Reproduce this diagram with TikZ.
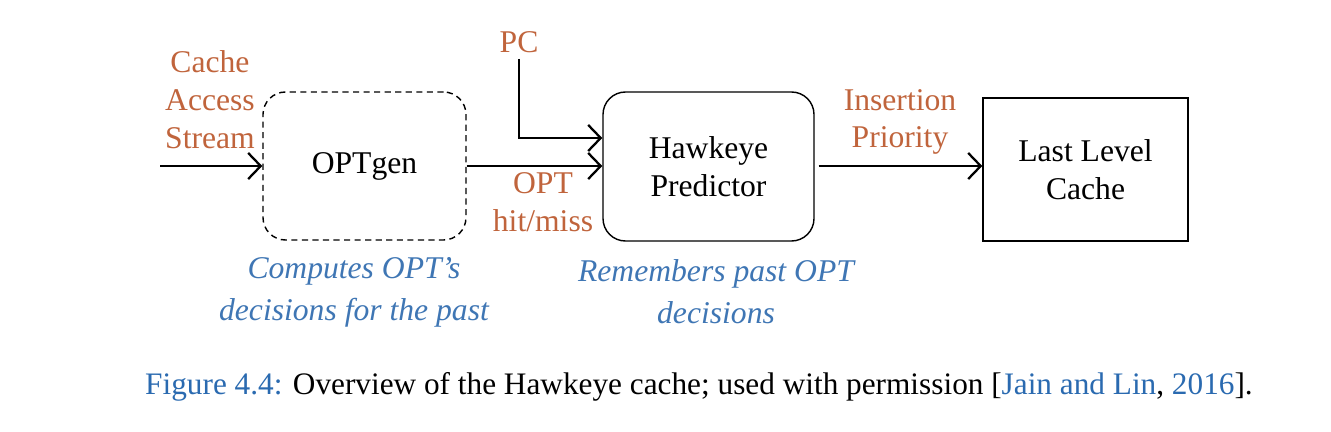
\documentclass[tikz,border=0pt]{standalone}
\usepackage{fontspec}
\setmainfont{Liberation Serif}
\usepackage{tikz}
\usetikzlibrary{arrows.meta,positioning,calc}

\definecolor{lblorange}{HTML}{C0643C}
\definecolor{noteblue}{HTML}{3F76B4}
\definecolor{refblue}{HTML}{2A6AB0}

\begin{document}
\begin{tikzpicture}[
    every node/.style={font=\fontsize{18}{21.5}\selectfont},
    box/.style={draw, line width=0.8pt, minimum width=4.1cm, minimum height=2.9cm, align=center},
    flow/.style={line width=1.3pt, -{Straight Barb[length=2.5mm, width=5.2mm, line width=1.3pt]}},
    tag/.style={text=lblorange, align=center},
    note/.style={text=noteblue, align=center, font=\fontsize{18}{24}\selectfont\itshape}
  ]
  \useasboundingbox (0,0) rectangle (26.62,-8.64);

  % Blocks
  \node[box, dash pattern=on 3.5pt off 2.5pt, rounded corners=0.45cm, minimum width=4.06cm, minimum height=2.96cm] (optgen) at (7.29,-3.32) {OPTgen};
  \node[box, rounded corners=0.45cm, minimum width=4.22cm, minimum height=2.98cm] (hawk) at (14.17,-3.33) {\raisebox{-0.08cm}{Hawkeye}\\\raisebox{-0.08cm}{Predictor}};
  \node[box, minimum width=4.1cm, minimum height=2.86cm] (llc) at (21.71,-3.39) {Last Level\\Cache};

  % Inputs
  \coordinate (stream) at (3.2,-3.32);
  \node[tag] (pc) at (10.38,-0.84) {PC};

  % Arrows
  \draw[flow] (stream) -- (optgen.west |- stream);
  \draw[flow] (optgen.east |- stream) -- (hawk.west |- stream);
  \draw[flow] (pc.south) |- ($(hawk.west)+(0,0.57)$);
  \draw[flow] ([xshift=0.08cm]hawk.east |- stream) -- (llc.west |- stream);

  % Arrow labels
  \node[tag] (streamlbl) at (4.2,-1.99) {Cache\\Access\\Stream};
  \node[tag] (hitlbl) at (10.86,-4.05) {OPT\\hit/miss};
  \node[tag] (prilbl) at (18.0,-2.44) {Insertion\\Priority};

  % Notes under the blocks
  \node[note] (optnote) at (7.08,-5.84) {Computes OPT's\\decisions for the past};
  \node[note] (hawknote) at (14.32,-5.84) {Remembers past OPT\\decisions};

  % Caption
  \node[font=\fontsize{17.8}{21}\selectfont] (caption) at (13.98,-7.74) {\textcolor{refblue}{Figure 4.4:} Overview of the Hawkeye cache; used with permission [\textcolor{refblue}{Jain and Lin}, \textcolor{refblue}{2016}].};
\end{tikzpicture}
\end{document}
